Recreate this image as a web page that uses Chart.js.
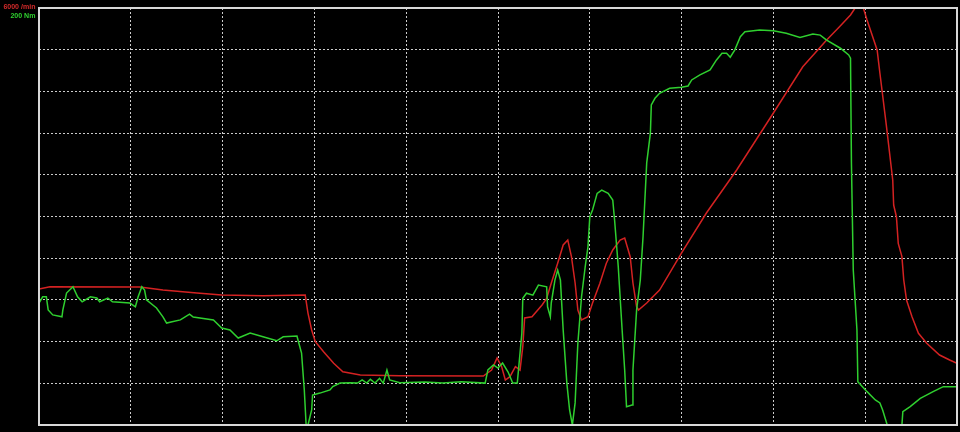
<!DOCTYPE html>
<html>
<head>
<meta charset="utf-8">
<script src="https://cdn.jsdelivr.net/npm/chart.js@4/dist/chart.umd.min.js"></script>
<style>
  html, body { margin: 0; padding: 0; background: #000; }
  #wrap { position: relative; width: 960px; height: 432px; background: #000; }
  .lbl { position: absolute; right: 925px; font-family: "Liberation Sans", Arial, sans-serif;
         font-weight: bold; font-size: 8px; line-height: 8px; white-space: nowrap;
         transform: scaleX(0.88); transform-origin: right center; }
  #lblRpm { top: 3px; color: #d42a2a; }
  #lblNm { top: 12px; color: #2fd02f; }
</style>
</head>
<body>
<div id="wrap">
  <canvas id="grafico"></canvas>
  <div class="lbl" id="lblRpm">6000 /min</div>
  <div class="lbl" id="lblNm">200 Nm</div>
</div>
<script>
// escalas (10 divisões em cada eixo)
const xMin = 0, xMax = 100, xStep = 10;
const rpmMax = 6000, rpmStep = 600;
const nmMax = 200;

// rotação do motor (/min)
const rpmTempo = [0, 1.2, 11.0, 13.5, 17.2, 19.9, 24.4, 29.0, 29.3, 29.7, 30.1, 31.0, 32.1, 33.1, 35.0,
  39.3, 48.4, 49.3, 49.9, 50.4, 50.8, 51.3, 51.9, 52.4, 52.7, 52.9, 53.7, 54.8, 55.3, 55.8, 56.5,
  57.1, 57.6, 58.0, 58.4, 58.7, 59.1, 59.8, 60.3, 61.1, 61.8, 62.5, 63.3, 63.8, 64.4, 64.7, 65.1,
  65.3, 66.2, 67.6, 70.0, 72.7, 76.0, 80.0, 83.2, 85.8, 87.2, 88.4, 88.9, 89.8, 90.2, 91.3, 91.6,
  92.3, 93.0, 93.1, 93.4, 93.6, 94.0, 94.2, 94.5, 95.1, 95.8, 96.7, 98.1, 99.2, 100];
const rpmValores = [1957, 1990, 1986, 1942, 1899, 1870, 1860, 1870, 1611, 1367, 1199, 1055, 888, 767, 719,
  709, 705, 791, 964, 839, 647, 695, 839, 791, 1127, 1540, 1558, 1727, 1823, 2039, 2327,
  2590, 2662, 2422, 2043, 1655, 1511, 1558, 1755, 2039, 2327, 2518, 2662, 2691, 2422, 2043, 1702,
  1655, 1755, 1942, 2475, 3050, 3669, 4489, 5155, 5539, 5730, 5899, 6000, 6000, 5827, 5396, 5065,
  4316, 3525, 3165, 2997, 2614, 2422, 2086, 1799, 1558, 1319, 1175, 1007, 935, 888];

// torque (Nm)
const nmTempo = [0, 0.4, 0.8, 1.0, 1.5, 2.5, 2.6, 3.0, 3.7, 4.2, 4.7, 5.6, 6.3, 6.6, 7.5, 8.0, 9.9,
  10.5, 10.8, 11.2, 11.5, 11.7, 12.8, 13.5, 13.9, 14.5, 15.4, 16.4, 16.8, 19.0, 19.9, 20.8, 21.7,
  23.0, 24.4, 25.9, 26.6, 28.1, 28.3, 28.6, 28.9, 29.1, 29.3, 29.7, 29.8, 30.6, 31.7, 32.0, 32.8,
  33.9, 34.7, 35.2, 35.7, 36.1, 36.6, 37.1, 37.5, 37.9, 38.2, 39.3, 42.0, 44.0, 46.0, 48.6,
  48.9, 49.5, 50.0, 50.5, 51.1, 51.6, 52.1, 52.6, 52.7, 53.1, 53.8, 54.4, 55.3, 55.4, 55.7, 55.8,
  56.2, 56.5, 56.8, 57.1, 57.5, 57.8, 58.1, 58.4, 58.7, 59.1, 59.5, 59.8, 60.0, 60.3, 60.8, 61.3,
  62.0, 62.5, 62.7, 63.1, 63.5, 63.8, 64.0, 64.6, 64.7, 65.1, 65.5, 65.8, 66.2, 66.6, 66.7, 67.1,
  67.6, 68.7, 70.0, 70.7, 71.1, 72.0, 73.1, 73.8, 74.4, 74.9, 75.3, 75.8, 76.4, 76.9, 78.5, 80.0,
  81.4, 82.9, 84.3, 85.1, 85.8, 87.3, 88.2, 88.4, 88.5, 88.7, 89.1, 89.2, 90.2, 91.1, 91.6, 91.9,
  92.4, 94.0, 94.1, 94.9, 96.0, 97.4, 98.5, 100];
const nmValores = [58.5, 61.5, 61.5, 55.2, 52.8, 51.9, 55.2, 63.3, 66.3, 61.5, 59.1, 61.5, 60.9, 59.1, 60.9, 59.1, 58.5,
  56.7, 61.5, 66.3, 64.7, 60.0, 56.1, 51.9, 48.9, 49.5, 50.4, 53.2, 51.8, 50.4, 46.5, 45.6, 41.7,
  44.1, 42.3, 40.4, 42.3, 42.7, 39.3, 34.5, 16.8, 0, 0, 7.2, 14.4, 15.3, 16.8, 18.4, 20.1,
  20.3, 20.1, 21.6, 20.1, 21.9, 20.1, 22.4, 20.1, 26.4, 21.6, 20.3, 20.6, 20.1, 20.8, 20.1,
  26.4, 28.8, 27.3, 29.7, 25.4, 20.1, 20.1, 44.1, 60.8, 63.2, 62.3, 67.1, 66.3, 56.7, 51.9, 58.5,
  69.5, 74.3, 69.5, 45.6, 20.1, 7.2, 0, 10.6, 39.3, 61.5, 75.9, 85.5, 99.9, 103.1, 111.1, 112.7,
  111.1, 107.9, 98.3, 75.9, 47.1, 26.4, 8.8, 9.6, 26.4, 55.2, 69.5, 90.3, 125.7, 140.0, 153.5, 156.7,
  159.1, 161.5, 162.0, 162.6, 165.5, 167.9, 170.3, 175.1, 178.3, 178.3, 176.4, 179.9, 186.2, 188.6, 189.4, 189.1,
  187.9, 185.9, 187.5, 187.0, 184.6, 180.7, 177.5, 175.9, 125.7, 74.3, 45.6, 20.8, 16.0, 12.0, 10.6, 7.2,
  0, 0, 6.4, 8.8, 12.8, 16.0, 18.4, 18.4];

const pontos = (xs, ys) => xs.map((x, i) => ({ x: x, y: ys[i] }));

// moldura branca em volta da área do gráfico
const moldura = {
  id: "moldura",
  afterDraw(chart) {
    const { ctx, chartArea: a } = chart;
    ctx.save();
    ctx.strokeStyle = "#d8d8d8";
    ctx.lineWidth = 2;
    ctx.strokeRect(a.left, a.top, a.right - a.left, a.bottom - a.top);
    ctx.restore();
  },
};

const grade = {
  color: "rgba(255,255,255,0.8)",
  lineWidth: 1,
  drawTicks: false,
};

new Chart(document.getElementById("grafico").getContext("2d"), {
  type: "line",
  data: {
    datasets: [
      {
        label: "Torque (Nm)",
        data: pontos(nmTempo, nmValores),
        yAxisID: "yNm",
        borderColor: "#2fcf2f",
        borderWidth: 1.5,
        pointRadius: 0,
        tension: 0,
      },
      {
        label: "Rotação (/min)",
        data: pontos(rpmTempo, rpmValores),
        yAxisID: "yRpm",
        borderColor: "#d42222",
        borderWidth: 1.5,
        pointRadius: 0,
        tension: 0,
      },
    ],
  },
  options: {
    responsive: true,
    maintainAspectRatio: false,
    animation: false,
    layout: { padding: { left: 39, top: 8, right: 3, bottom: 7 } },
    plugins: { legend: { display: false }, tooltip: { enabled: false } },
    scales: {
      x: {
        type: "linear",
        min: xMin,
        max: xMax,
        ticks: { display: false, stepSize: xStep },
        grid: grade,
        border: { display: false, dash: [2, 2] },
        afterFit: (s) => { s.height = 0; },
      },
      yRpm: {
        position: "left",
        min: 0,
        max: rpmMax,
        ticks: { display: false, stepSize: rpmStep },
        grid: grade,
        border: { display: false, dash: [2, 2] },
        afterFit: (s) => { s.width = 0; },
      },
      yNm: {
        position: "right",
        min: 0,
        max: nmMax,
        ticks: { display: false },
        grid: { display: false, drawTicks: false },
        border: { display: false },
        afterFit: (s) => { s.width = 0; },
      },
    },
  },
  plugins: [moldura],
});
</script>
</body>
</html>
